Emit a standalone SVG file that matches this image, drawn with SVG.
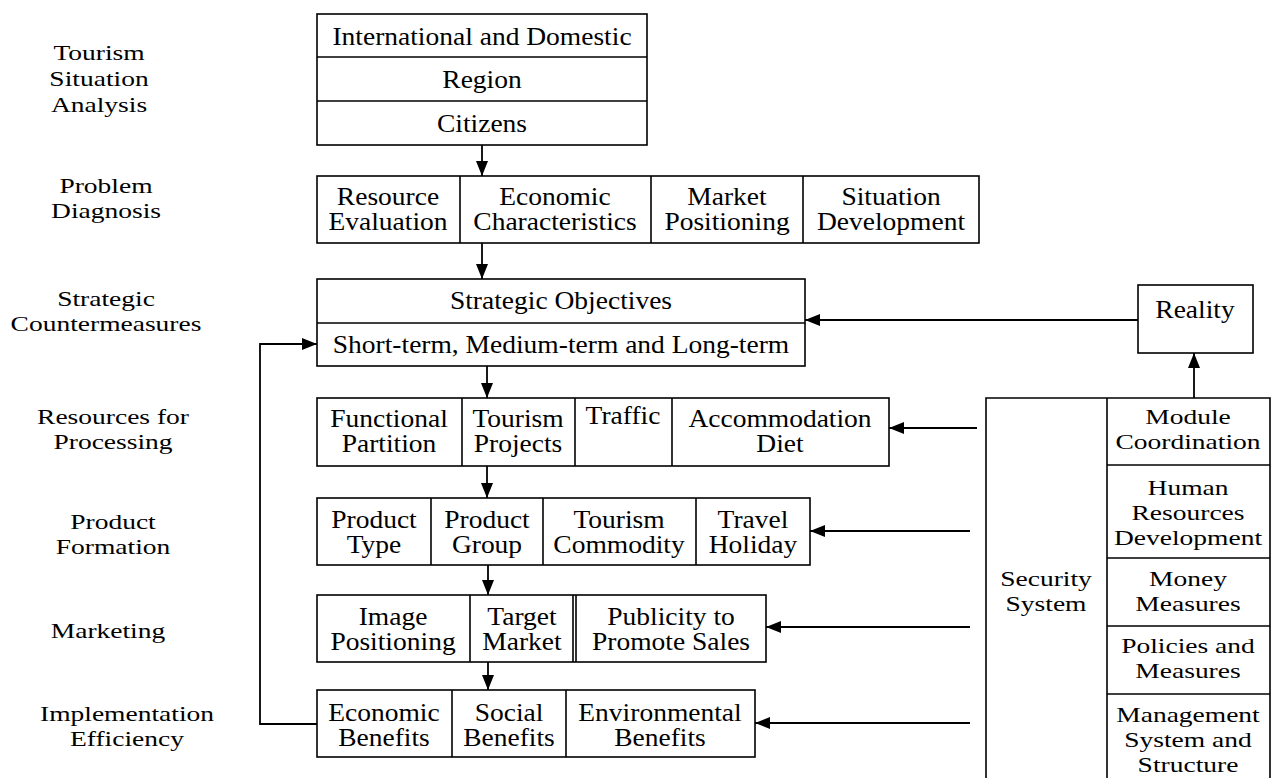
<svg xmlns="http://www.w3.org/2000/svg" width="1281" height="778" viewBox="0 0 1281 778">
<defs>
<marker id="ah" markerUnits="userSpaceOnUse" markerWidth="16" markerHeight="12" refX="15" refY="6" orient="auto">
<path d="M0,0 L15,6 L0,12 z" fill="#000"/>
</marker>
<style>
text{font-family:"Liberation Serif","Times New Roman",serif;font-size:22px;fill:#000;text-anchor:middle}
text.x{font-size:25px}
.b{fill:#fff;stroke:#000;stroke-width:1.6}
.ln{fill:none;stroke:#000;stroke-width:1.6}
.c{fill:none;stroke:#000;stroke-width:1.8;marker-end:url(#ah)}
</style>
</defs>
<rect width="1281" height="778" fill="#fff"/>

<g id="labels">
<text transform="translate(99,60) scale(1.25,1)">Tourism</text>
<text transform="translate(99,86) scale(1.25,1)">Situation</text>
<text transform="translate(99,112) scale(1.25,1)">Analysis</text>
<text transform="translate(106,193) scale(1.25,1)">Problem</text>
<text transform="translate(106,218) scale(1.25,1)">Diagnosis</text>
<text transform="translate(106,306) scale(1.25,1)">Strategic</text>
<text transform="translate(106,331) scale(1.25,1)">Countermeasures</text>
<text transform="translate(113,424) scale(1.25,1)">Resources for</text>
<text transform="translate(113,449) scale(1.25,1)">Processing</text>
<text transform="translate(113,529) scale(1.25,1)">Product</text>
<text transform="translate(113,554) scale(1.25,1)">Formation</text>
<text transform="translate(108,638) scale(1.25,1)">Marketing</text>
<text transform="translate(127,721) scale(1.25,1)">Implementation</text>
<text transform="translate(127,746) scale(1.25,1)">Efficiency</text>
</g>

<g id="situation">
<rect class="b" x="317" y="14" width="330" height="131"/>
<line class="ln" x1="317" y1="57" x2="647" y2="57"/>
<line class="ln" x1="317" y1="101" x2="647" y2="101"/>
<text class="x" transform="translate(482,45) scale(1.1,1)">International and Domestic</text>
<text class="x" transform="translate(482,88) scale(1.1,1)">Region</text>
<text class="x" transform="translate(482,132) scale(1.1,1)">Citizens</text>
</g>

<g id="diagnosis">
<rect class="b" x="317" y="176" width="662" height="67"/>
<line class="ln" x1="460" y1="176" x2="460" y2="243"/>
<line class="ln" x1="651" y1="176" x2="651" y2="243"/>
<line class="ln" x1="803" y1="176" x2="803" y2="243"/>
<text class="x" transform="translate(388,205) scale(1.1,1)">Resource</text>
<text class="x" transform="translate(388,230) scale(1.1,1)">Evaluation</text>
<text class="x" transform="translate(555,205) scale(1.1,1)">Economic</text>
<text class="x" transform="translate(555,230) scale(1.1,1)">Characteristics</text>
<text class="x" transform="translate(727,205) scale(1.1,1)">Market</text>
<text class="x" transform="translate(727,230) scale(1.1,1)">Positioning</text>
<text class="x" transform="translate(891,205) scale(1.1,1)">Situation</text>
<text class="x" transform="translate(891,230) scale(1.1,1)">Development</text>
</g>

<g id="strategic">
<rect class="b" x="317" y="279" width="488" height="87"/>
<line class="ln" x1="317" y1="323" x2="805" y2="323"/>
<text class="x" transform="translate(561,309) scale(1.1,1)">Strategic Objectives</text>
<text class="x" transform="translate(561,353) scale(1.1,1)">Short-term, Medium-term and Long-term</text>
</g>

<g id="reality">
<rect class="b" x="1138" y="285" width="115" height="68"/>
<text class="x" transform="translate(1195,318) scale(1.1,1)">Reality</text>
</g>

<g id="resources">
<rect class="b" x="317" y="398" width="572" height="68"/>
<line class="ln" x1="462" y1="398" x2="462" y2="466"/>
<line class="ln" x1="575" y1="398" x2="575" y2="466"/>
<line class="ln" x1="672" y1="398" x2="672" y2="466"/>
<text class="x" transform="translate(389,427) scale(1.1,1)">Functional</text>
<text class="x" transform="translate(389,452) scale(1.1,1)">Partition</text>
<text class="x" transform="translate(518,427) scale(1.1,1)">Tourism</text>
<text class="x" transform="translate(518,452) scale(1.1,1)">Projects</text>
<text class="x" transform="translate(623,424) scale(1.1,1)">Traffic</text>
<text class="x" transform="translate(780,427) scale(1.1,1)">Accommodation</text>
<text class="x" transform="translate(780,452) scale(1.1,1)">Diet</text>
</g>

<g id="product">
<rect class="b" x="317" y="498" width="493" height="67"/>
<line class="ln" x1="431" y1="498" x2="431" y2="565"/>
<line class="ln" x1="543" y1="498" x2="543" y2="565"/>
<line class="ln" x1="696" y1="498" x2="696" y2="565"/>
<text class="x" transform="translate(374,528) scale(1.1,1)">Product</text>
<text class="x" transform="translate(374,553) scale(1.1,1)">Type</text>
<text class="x" transform="translate(487,528) scale(1.1,1)">Product</text>
<text class="x" transform="translate(487,553) scale(1.1,1)">Group</text>
<text class="x" transform="translate(619,528) scale(1.1,1)">Tourism</text>
<text class="x" transform="translate(619,553) scale(1.1,1)">Commodity</text>
<text class="x" transform="translate(753,528) scale(1.1,1)">Travel</text>
<text class="x" transform="translate(753,553) scale(1.1,1)">Holiday</text>
</g>

<g id="marketing">
<rect class="b" x="317" y="595" width="449" height="67"/>
<line class="ln" x1="470" y1="595" x2="470" y2="662"/>
<line class="ln" x1="573" y1="595" x2="573" y2="662"/>
<line class="ln" x1="576" y1="595" x2="576" y2="662"/>
<text class="x" transform="translate(393,625) scale(1.1,1)">Image</text>
<text class="x" transform="translate(393,650) scale(1.1,1)">Positioning</text>
<text class="x" transform="translate(522,625) scale(1.1,1)">Target</text>
<text class="x" transform="translate(522,650) scale(1.1,1)">Market</text>
<text class="x" transform="translate(671,625) scale(1.1,1)">Publicity to</text>
<text class="x" transform="translate(671,650) scale(1.1,1)">Promote Sales</text>
</g>

<g id="efficiency">
<rect class="b" x="317" y="690" width="438" height="67"/>
<line class="ln" x1="452" y1="690" x2="452" y2="757"/>
<line class="ln" x1="566" y1="690" x2="566" y2="757"/>
<text class="x" transform="translate(384,721) scale(1.1,1)">Economic</text>
<text class="x" transform="translate(384,746) scale(1.1,1)">Benefits</text>
<text class="x" transform="translate(509,721) scale(1.1,1)">Social</text>
<text class="x" transform="translate(509,746) scale(1.1,1)">Benefits</text>
<text class="x" transform="translate(660,721) scale(1.1,1)">Environmental</text>
<text class="x" transform="translate(660,746) scale(1.1,1)">Benefits</text>
</g>

<g id="security">
<path class="ln" d="M986,780 V398 H1270 V780"/>
<line class="ln" x1="1107" y1="398" x2="1107" y2="780"/>
<line class="ln" x1="1107" y1="465" x2="1270" y2="465"/>
<line class="ln" x1="1107" y1="558" x2="1270" y2="558"/>
<line class="ln" x1="1107" y1="626" x2="1270" y2="626"/>
<line class="ln" x1="1107" y1="694" x2="1270" y2="694"/>
<text transform="translate(1046,586) scale(1.25,1)">Security</text>
<text transform="translate(1046,611) scale(1.25,1)">System</text>
<text transform="translate(1188,424) scale(1.25,1)">Module</text>
<text transform="translate(1188,449) scale(1.25,1)">Coordination</text>
<text transform="translate(1188,495) scale(1.25,1)">Human</text>
<text transform="translate(1188,520) scale(1.25,1)">Resources</text>
<text transform="translate(1188,545) scale(1.25,1)">Development</text>
<text transform="translate(1188,586) scale(1.25,1)">Money</text>
<text transform="translate(1188,611) scale(1.25,1)">Measures</text>
<text transform="translate(1188,653) scale(1.25,1)">Policies and</text>
<text transform="translate(1188,678) scale(1.25,1)">Measures</text>
<text transform="translate(1188,722) scale(1.25,1)">Management</text>
<text transform="translate(1188,747) scale(1.25,1)">System and</text>
<text transform="translate(1188,772) scale(1.25,1)">Structure</text>
</g>

<g id="connectors">
<line class="c" x1="482" y1="145" x2="482" y2="176"/>
<line class="c" x1="482" y1="243" x2="482" y2="279"/>
<line class="c" x1="487" y1="366" x2="487" y2="398"/>
<line class="c" x1="487" y1="466" x2="487" y2="498"/>
<line class="c" x1="488" y1="565" x2="488" y2="595"/>
<line class="c" x1="488" y1="662" x2="488" y2="690"/>
<line class="c" x1="1138" y1="320" x2="805" y2="320"/>
<line class="c" x1="1194" y1="398" x2="1194" y2="353"/>
<line class="c" x1="977" y1="428" x2="889" y2="428"/>
<line class="c" x1="970" y1="531" x2="810" y2="531"/>
<line class="c" x1="970" y1="627" x2="766" y2="627"/>
<line class="c" x1="970" y1="723" x2="755" y2="723"/>
<path class="c" d="M317,724 H260 V344 H317"/>
</g>
</svg>
